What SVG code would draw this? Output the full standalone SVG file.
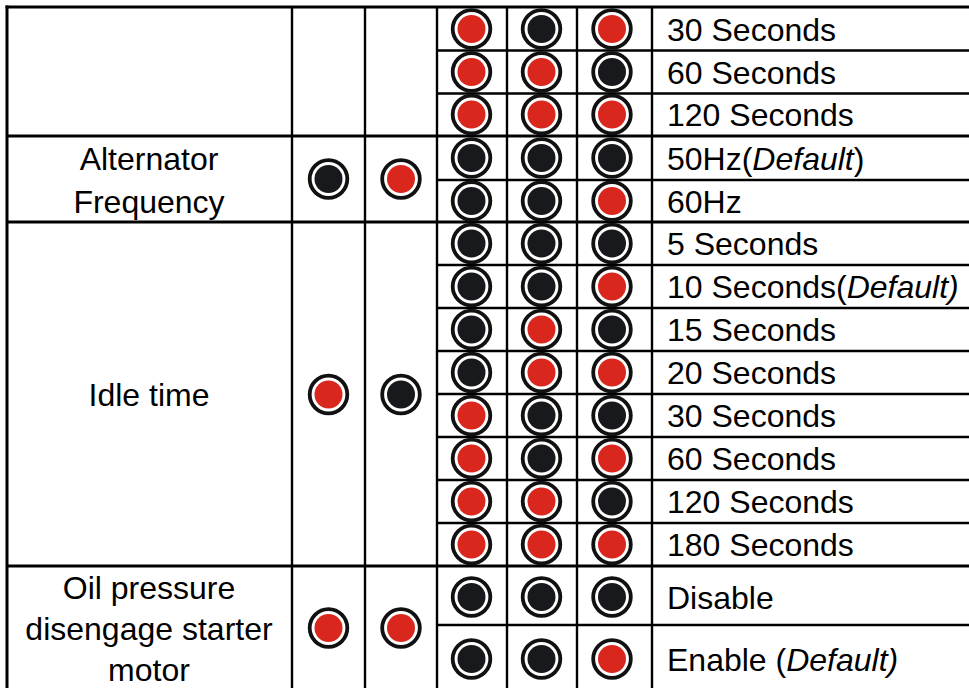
<svg xmlns="http://www.w3.org/2000/svg" width="969" height="688" viewBox="0 0 969 688">
<style>
text{font-family:"Liberation Sans",Arial,sans-serif;font-size:32px;fill:#000}
.c{text-anchor:middle}
.i{font-style:italic}
.g line{stroke:#000}
.thick{stroke-width:3}
.thin{stroke-width:2.4}
</style>
<defs>
<g id="dR"><circle r="18.8" fill="#fff" stroke="#111" stroke-width="3.8"/><circle r="14" fill="#d9271e"/></g>
<g id="dK"><circle r="18.8" fill="#fff" stroke="#111" stroke-width="3.8"/><circle r="14" fill="#17191c"/></g>
</defs>
<rect width="969" height="688" fill="#fff"/>
<g id="grid" class="g">
<line class="thick" x1="7" y1="5.5" x2="7" y2="688"/>
<line class="thick" x1="5.5" y1="7" x2="969" y2="7"/>
<line class="thin" x1="292" y1="7" x2="292" y2="688"/>
<line class="thin" x1="365" y1="7" x2="365" y2="688"/>
<line class="thin" x1="437" y1="7" x2="437" y2="688"/>
<line class="thin" x1="507" y1="7" x2="507" y2="688"/>
<line class="thin" x1="577" y1="7" x2="577" y2="688"/>
<line class="thin" x1="652" y1="7" x2="652" y2="688"/>
<line class="thick" x1="7" y1="136" x2="969" y2="136"/>
<line class="thick" x1="7" y1="222" x2="969" y2="222"/>
<line class="thick" x1="7" y1="566" x2="969" y2="566"/>
<line class="thin" x1="437" y1="50.5" x2="969" y2="50.5"/>
<line class="thin" x1="437" y1="93.5" x2="969" y2="93.5"/>
<line class="thin" x1="437" y1="180" x2="969" y2="180"/>
<line class="thin" x1="437" y1="265" x2="969" y2="265"/>
<line class="thin" x1="437" y1="308" x2="969" y2="308"/>
<line class="thin" x1="437" y1="351" x2="969" y2="351"/>
<line class="thin" x1="437" y1="394" x2="969" y2="394"/>
<line class="thin" x1="437" y1="437" x2="969" y2="437"/>
<line class="thin" x1="437" y1="480" x2="969" y2="480"/>
<line class="thin" x1="437" y1="523" x2="969" y2="523"/>
<line class="thin" x1="437" y1="625" x2="969" y2="625"/>
</g>
<g id="row-crank">
<use href="#dR" x="471.5" y="29"/><use href="#dK" x="541.5" y="29"/><use href="#dR" x="612" y="29"/><text x="667" y="40.5">30 Seconds</text>
<use href="#dR" x="471.5" y="72"/><use href="#dR" x="541.5" y="72"/><use href="#dK" x="612" y="72"/><text x="667" y="83.5">60 Seconds</text>
<use href="#dR" x="471.5" y="114.5"/><use href="#dR" x="541.5" y="114.5"/><use href="#dR" x="612" y="114.5"/><text x="667" y="126">120 Seconds</text>
</g>
<g id="row-alternator">
<text class="c" x="149" y="170">Alternator</text>
<text class="c" x="149" y="213">Frequency</text>
<use href="#dK" x="328.5" y="179"/><use href="#dR" x="401" y="179"/>
<use href="#dK" x="471.5" y="158"/><use href="#dK" x="541.5" y="158"/><use href="#dK" x="612" y="158"/><text x="667" y="169.5">50Hz(<tspan class="i">Default</tspan>)</text>
<use href="#dK" x="471.5" y="201"/><use href="#dK" x="541.5" y="201"/><use href="#dR" x="612" y="201"/><text x="667" y="212.5">60Hz</text>
</g>
<g id="row-idle">
<text class="c" x="149" y="406">Idle time</text>
<use href="#dR" x="328.5" y="394.5"/><use href="#dK" x="401" y="394.5"/>
<use href="#dK" x="471.5" y="243.5"/><use href="#dK" x="541.5" y="243.5"/><use href="#dK" x="612" y="243.5"/><text x="667" y="255">5 Seconds</text>
<use href="#dK" x="471.5" y="286.5"/><use href="#dK" x="541.5" y="286.5"/><use href="#dR" x="612" y="286.5"/><text x="667" y="298">10 Seconds(<tspan class="i">Default)</tspan></text>
<use href="#dK" x="471.5" y="329.5"/><use href="#dR" x="541.5" y="329.5"/><use href="#dK" x="612" y="329.5"/><text x="667" y="341">15 Seconds</text>
<use href="#dK" x="471.5" y="372.5"/><use href="#dR" x="541.5" y="372.5"/><use href="#dR" x="612" y="372.5"/><text x="667" y="384">20 Seconds</text>
<use href="#dR" x="471.5" y="415.5"/><use href="#dK" x="541.5" y="415.5"/><use href="#dK" x="612" y="415.5"/><text x="667" y="427">30 Seconds</text>
<use href="#dR" x="471.5" y="458.5"/><use href="#dK" x="541.5" y="458.5"/><use href="#dR" x="612" y="458.5"/><text x="667" y="470">60 Seconds</text>
<use href="#dR" x="471.5" y="501.5"/><use href="#dR" x="541.5" y="501.5"/><use href="#dK" x="612" y="501.5"/><text x="667" y="513">120 Seconds</text>
<use href="#dR" x="471.5" y="544.5"/><use href="#dR" x="541.5" y="544.5"/><use href="#dR" x="612" y="544.5"/><text x="667" y="556">180 Seconds</text>
</g>
<g id="row-oil">
<text class="c" x="149" y="599">Oil pressure</text>
<text class="c" x="149" y="640">disengage starter</text>
<text class="c" x="149" y="681">motor</text>
<use href="#dR" x="328.5" y="628"/><use href="#dR" x="401" y="628"/>
<use href="#dK" x="471.5" y="597"/><use href="#dK" x="541.5" y="597"/><use href="#dK" x="612" y="597"/><text x="667" y="608.5">Disable</text>
<use href="#dK" x="471.5" y="659"/><use href="#dK" x="541.5" y="659"/><use href="#dR" x="612" y="659"/><text x="667" y="670.5">Enable (<tspan class="i">Default)</tspan></text>
</g>
</svg>
